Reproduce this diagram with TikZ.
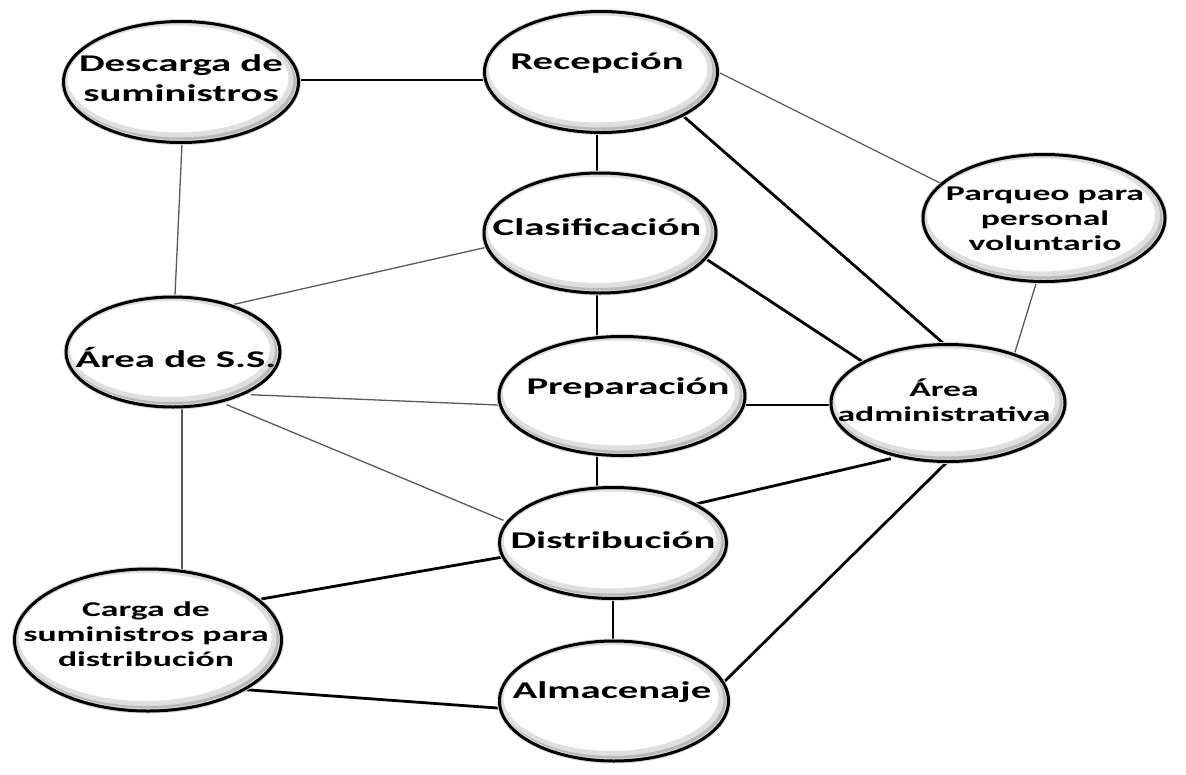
\documentclass[tikz,border=0pt]{standalone}
\usepackage{fontspec}
\newfontfamily\lab{Carlito}[FakeStretch=1.7]
\usetikzlibrary{backgrounds,shapes.geometric,calc}
\begin{document}
\begin{tikzpicture}[x=1pt,y=-1pt,
  inband/.style={path picture={
    \draw[gray!25, line width=14pt]
      let \p1=(path picture bounding box.north east), \p2=(path picture bounding box.center)
      in ([shift={(-3,-3)}]\p2) ellipse [x radius=\x1-\x2, y radius=\y1-\y2];
    \draw[gray!55, line width=6pt]
      let \p1=(path picture bounding box.north east), \p2=(path picture bounding box.center)
      in ([shift={(-2,-2)}]\p2) ellipse [x radius=\x1-\x2, y radius=\y1-\y2];}},
  el/.style={ellipse, fill=white, draw=gray!30, line width=5pt, inner sep=0pt, inband,
    postaction={draw=black, fill=none, line width=3pt}},
  big/.style={font=\lab\bfseries\fontsize{24}{30}\selectfont, align=center, inner sep=0pt},
  small/.style={font=\lab\bfseries\fontsize{21}{25}\selectfont, align=center, inner sep=0pt},
  thk/.style={line width=2.8pt, black, shorten <=-6pt, shorten >=-6pt},
  thn/.style={line width=1.3pt, black!65, shorten <=-6pt, shorten >=-6pt}]
\useasboundingbox (0,0) rectangle (1186,774);

% ellipses
\node[el, minimum width=235pt, minimum height=121pt] (desc) at (181,82) {};
\node[el, minimum width=233pt, minimum height=121pt] (rec) at (601,72) {};
\node[el, minimum width=232pt, minimum height=120pt] (cla) at (600,233) {};
\node[el, minimum width=242pt, minimum height=127pt] (par) at (1044,218) {};
\node[el, minimum width=214pt, minimum height=110pt] (ss) at (173,352) {};
\node[el, minimum width=246pt, minimum height=119pt] (prep) at (622,396) {};
\node[el, minimum width=234pt, minimum height=117pt] (adm) at (948,403) {};
\node[el, minimum width=227pt, minimum height=111pt] (dist) at (613,543) {};
\node[el, minimum width=267pt, minimum height=142pt] (carga) at (148,640) {};
\node[el, minimum width=229pt, minimum height=120pt] (alm) at (614,701) {};

% texts
\node[big] (tdesc) at (181,78) {Descarga de\\suministros};
\node[big] (trec) at (597,63) {Recepción};
\node[big] (tcla) at (597,227) {Clasificación};
\node[small] (tpar) at (1045,219) {Parqueo para\\personal\\voluntario};
\node[big] (tss) at (176,358) {Área de S.S.};
\node[big] (tprep) at (628,388) {Preparación};
\node[small] (tadm) at (944,400) {Área\\administrativa};
\node[big] (tdist) at (613,540) {Distribución};
\node[small] (tcarga) at (146,634) {Carga de\\suministros para\\distribución};
\node[big] (talm) at (612,692) {Almacenaje};

% connectors
\begin{pgfonlayer}{background}
\draw[thk] ([shift={(119,-2)}]desc.center) -- ([shift={(-118,8)}]rec.center);
\draw[thk] ([shift={(-4,61)}]rec.center) -- ([shift={(-3,-61)}]cla.center);
\draw[thk] ([shift={(-3,62)}]cla.center) -- ([shift={(-25,-61)}]prep.center);
\draw[thk] ([shift={(-25,61)}]prep.center) -- ([shift={(-16,-56)}]dist.center);
\draw[thk] ([shift={(0,57)}]dist.center) -- ([shift={(-1,-61)}]alm.center);
\draw[thn] ([shift={(1,62)}]desc.center) -- ([shift={(2,-57)}]ss.center);
\draw[thn] ([shift={(9,56)}]ss.center) -- ([shift={(34,-73)}]carga.center);
\draw[thn] ([shift={(119,1)}]rec.center) -- ([shift={(-106,-36)}]par.center);
\draw[thk] ([shift={(81,43)}]rec.center) -- ([shift={(-5,-60)}]adm.center);
\draw[thn] ([shift={(-117,15)}]cla.center) -- ([shift={(67,-49)}]ss.center);
\draw[thk] ([shift={(100,22)}]cla.center) -- ([shift={(-85,-41)}]adm.center);
\draw[thn] ([shift={(-9,69)}]par.center) -- ([shift={(67,-51)}]adm.center);
\draw[thn] ([shift={(84,43)}]ss.center) -- ([shift={(-124,9)}]prep.center);
\draw[thn] ([shift={(59,55)}]ss.center) -- ([shift={(-115,-25)}]dist.center);
\draw[thk] ([shift={(125,9)}]prep.center) -- ([shift={(-118,2)}]adm.center);
\draw[thk] ([shift={(87,-40)}]dist.center) -- ([shift={(-63,57)}]adm.center);
\draw[thk] ([shift={(-116,15)}]dist.center) -- ([shift={(119,-42)}]carga.center);
\draw[thk] ([shift={(114,-23)}]alm.center) -- ([shift={(-5,63)}]adm.center);
\draw[thk] ([shift={(-117,7)}]alm.center) -- ([shift={(102,50)}]carga.center);
\end{pgfonlayer}
\end{tikzpicture}
\end{document}
